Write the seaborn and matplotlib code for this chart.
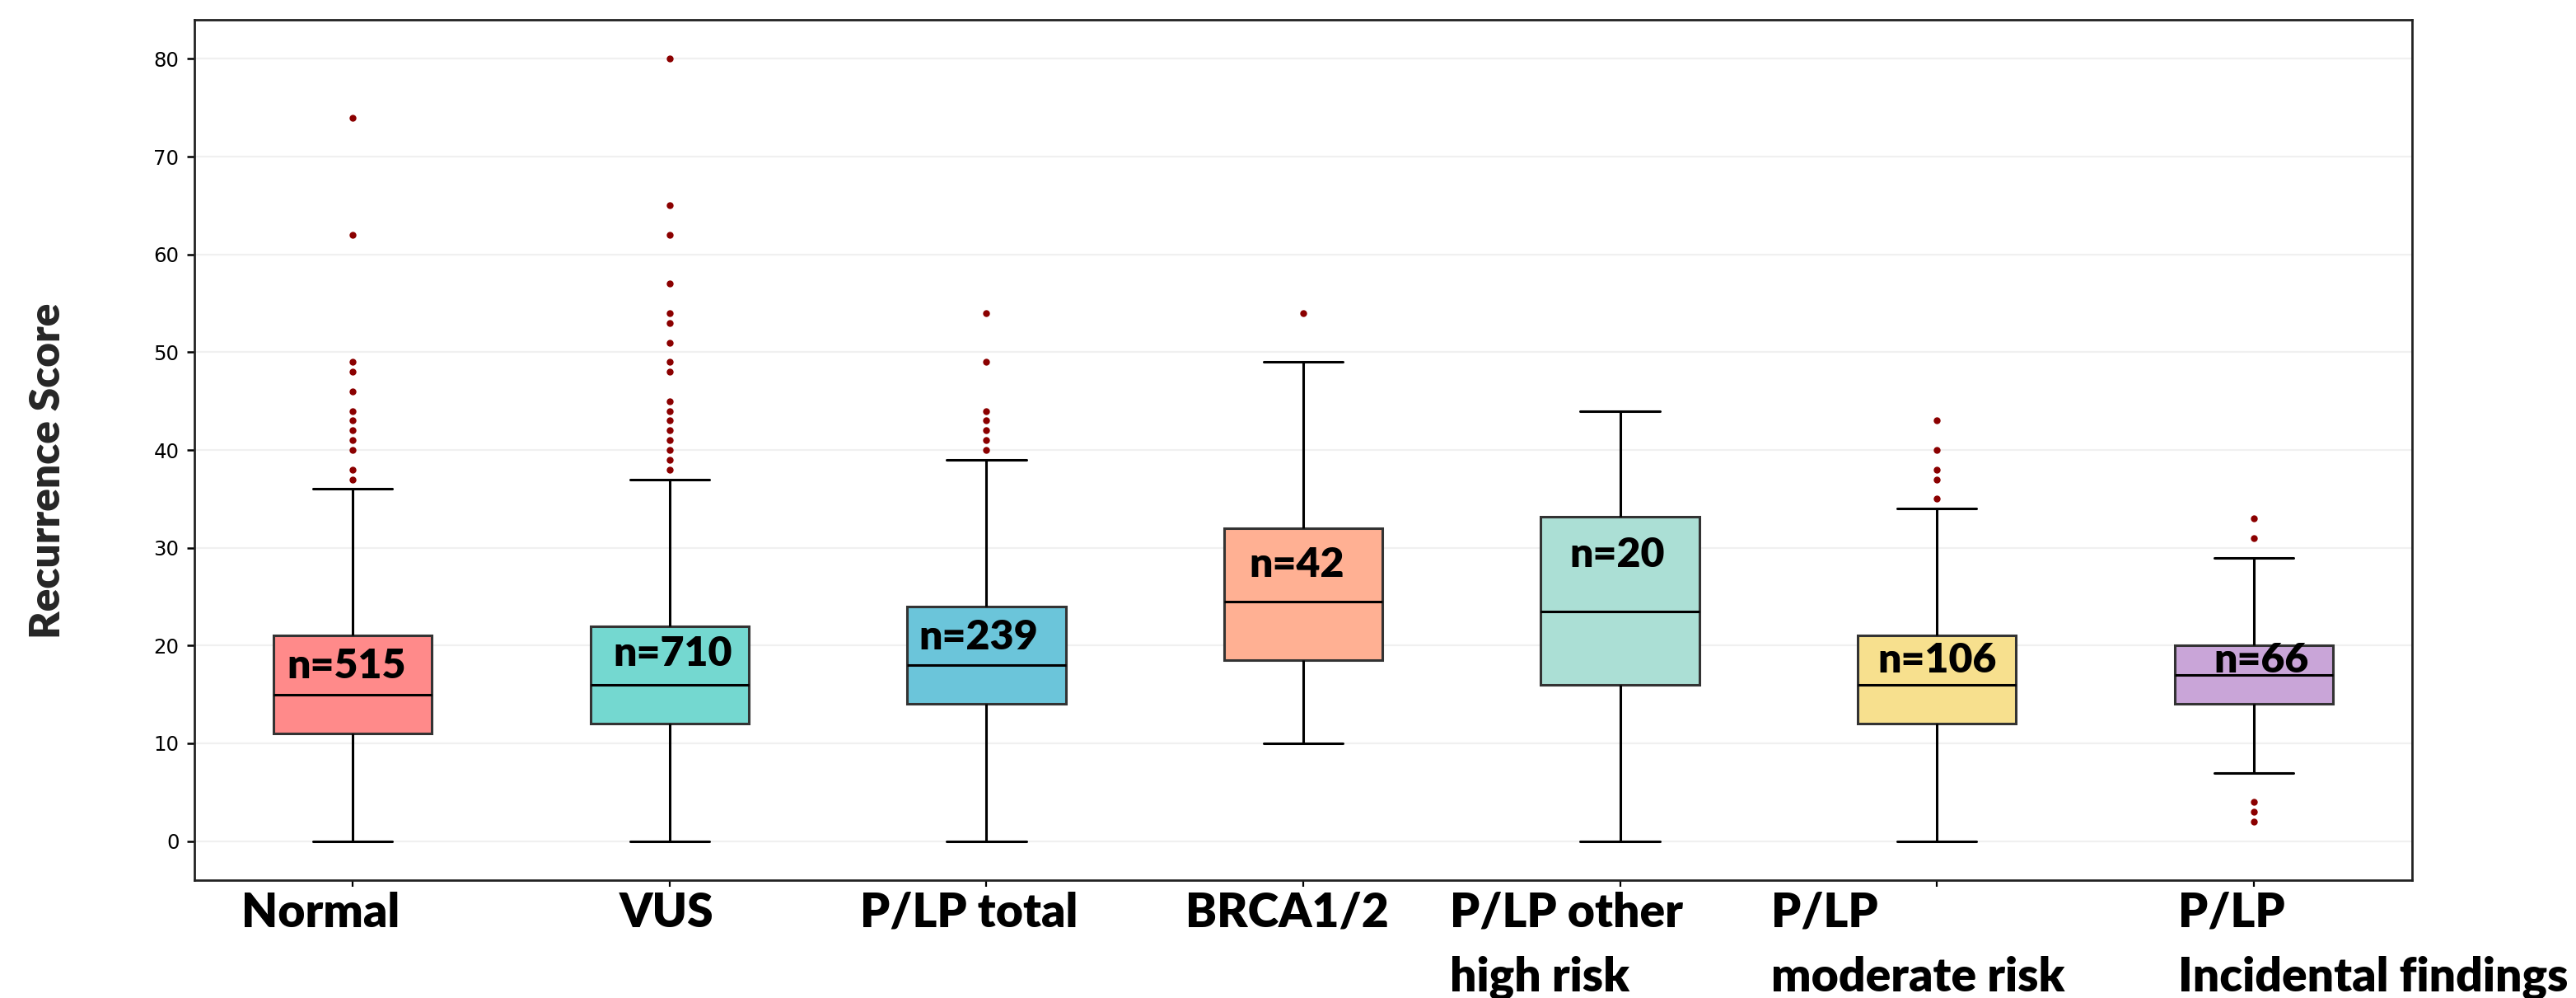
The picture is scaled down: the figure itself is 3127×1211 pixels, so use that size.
import numpy as np
import pandas as pd
import matplotlib
matplotlib.use("Agg")
import matplotlib.pyplot as plt
import matplotlib.transforms as mtransforms
import seaborn as sns

# ---------------- data ----------------
categories = ["Normal", "VUS", "P/LP total", "BRCA1/2",
              "P/LP other\nhigh risk", "P/LP\nmoderate risk",
              "P/LP\nIncidental findings"]
n_counts = [515, 710, 239, 42, 20, 106, 66]
q1_values = [11, 12, 14, 18.5, 16, 12, 14]
median_values = [15, 16, 18, 24.5, 23.5, 16, 17]
q3_values = [21, 22, 24, 32, 33.2, 21, 20]
whisker_low = [0, 0, 0, 10, 0, 0, 7]
whisker_high = [36, 37, 39, 49, 44, 34, 29]
outliers_normal = [37, 38, 40, 41, 42, 43, 44, 46, 48, 49, 62, 74]
outliers_vus = [38, 39, 40, 41, 42, 43, 44, 45, 48, 49, 51, 53, 54, 57, 62, 65, 80]
outliers_total = [40, 41, 42, 43, 44, 49, 54]
outliers_brca = [54]
outliers_other_high = []
outliers_moderate = [35, 37, 38, 40, 43]
outliers_incidental = [2, 3, 4, 31, 33]
outlier_lists = [outliers_normal, outliers_vus, outliers_total, outliers_brca,
                 outliers_other_high, outliers_moderate, outliers_incidental]
box_colors = ["#FF8A8A", "#74D8D0", "#6BC5DA", "#FFB093",
              "#ABDFD5", "#F7E08E", "#C9A5D8"]

# Build a long-form table whose box-plot statistics equal the summary values
# (quartile blocks are repeated so that seaborn's
# percentile computation reproduces q1 / median / q3 exactly).
BLOCK = 100
rows = []
for cat, lo, q1, med, q3, hi, outs in zip(categories, whisker_low, q1_values,
                                          median_values, q3_values,
                                          whisker_high, outlier_lists):
    vals = ([v for v in outs if v < lo] + [lo] + [q1] * BLOCK + [med] * BLOCK
            + [q3] * BLOCK + [hi] + [v for v in outs if v > hi])
    rows += [(cat, v) for v in vals]
df = pd.DataFrame(rows, columns=["group", "score"])

# ---------------- style ----------------
sns.set_theme(style="white")
plt.rcParams["font.family"] = ["DejaVu Sans"]

DPI = 200
fig = plt.figure(figsize=(3127 / DPI, 1211 / DPI), dpi=DPI)
ax = fig.add_axes([236 / 3127, 1 - 1068 / 1211, (2928 - 236) / 3127, (1068 - 24) / 1211])

sns.boxplot(data=df, x="group", y="score", hue="group", order=categories,
            hue_order=categories, palette=box_colors, saturation=1,
            width=0.5, linewidth=1.1, legend=False, ax=ax,
            boxprops=dict(edgecolor="#333333"),
            whiskerprops=dict(color="black", linewidth=1.1),
            capprops=dict(color="black", linewidth=1.1),
            medianprops=dict(color="black", linewidth=1.1),
            flierprops=dict(marker="o", markersize=2.0,
                            markerfacecolor="#8B0000",
                            markeredgecolor="#8B0000"))

ax.set_xlim(-0.5, 6.5)
ax.set_ylim(-4, 84)
ax.set_yticks(range(0, 81, 10))
ax.yaxis.grid(True, color="#F0F0F0", linewidth=0.8)
ax.xaxis.grid(False)
ax.set_axisbelow(True)
for sp in ax.spines.values():
    sp.set_visible(True)
    sp.set_color("#222222")
    sp.set_linewidth(1.0)

ax.tick_params(axis="y", which="major", left=True, length=3.2, width=0.9,
               pad=3.5, labelsize=8.8, colors="black")
ax.tick_params(axis="x", which="major", bottom=True, length=2.9, width=0.8,
               pad=2, colors="black")
ax.set_xlabel("")

# x tick labels: bold, left-aligned, shifted as in the reference
ax.set_xticks(range(len(categories)))
ax.set_xticklabels(categories)
label_dx_px = [-135, -61, -153, -143, -207, -201, -92]
for lab, dx in zip(ax.get_xticklabels(), label_dx_px):
    lab.set_fontfamily(["Lato", "DejaVu Sans"])
    lab.set_fontweight("heavy")
    lab.set_fontsize(20.5)
    lab.set_horizontalalignment("left")
    lab.set_multialignment("left")
    lab.set_linespacing(1.62)
    lab.set_transform(lab.get_transform() +
                      mtransforms.ScaledTranslation(dx / DPI, 0, fig.dpi_scale_trans))

# y label
ax.set_ylabel("Recurrence Score", fontsize=18.5, fontweight="heavy",
              family=["Lato", "DejaVu Sans"], va="center", ha="center")
ax.yaxis.set_label_coords(-0.066, 0.476)

# n= annotations
n_text_y = [16.65, 17.9, 19.6, 27.0, 28.0, 17.2, 17.2]
n_text_dx = [-0.02, 0.01, -0.025, -0.02, -0.01, 0.0, 0.025]
for i, (n, ty, dx) in enumerate(zip(n_counts, n_text_y, n_text_dx)):
    ax.text(i + dx, ty, f"n={n}", ha="center", va="baseline",
            fontsize=18, fontweight="heavy", family=["Lato", "DejaVu Sans"],
            color="black", zorder=5)

fig.savefig("out.png", dpi=DPI)
